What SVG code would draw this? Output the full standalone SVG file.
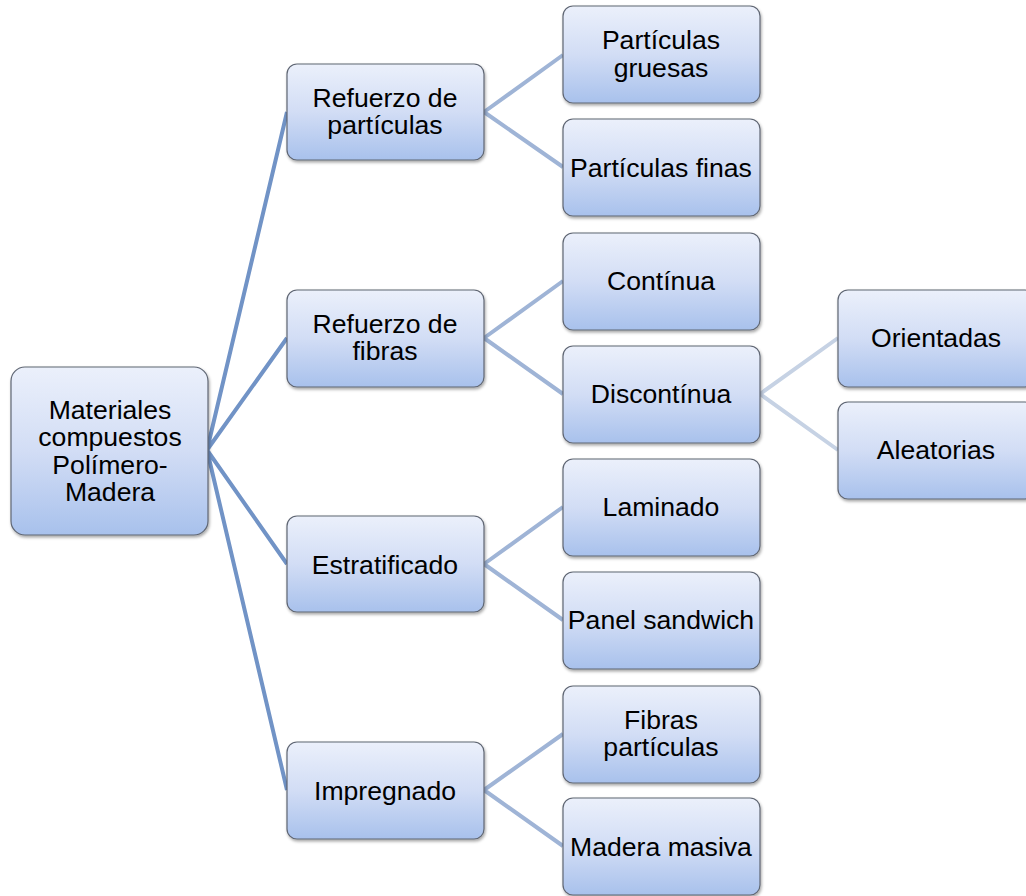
<svg xmlns="http://www.w3.org/2000/svg" width="1026" height="896" viewBox="0 0 1026 896">
<style>
.box{fill:url(#g);stroke:#5f6673;stroke-width:1.2;filter:url(#sh)}
.t{font-family:"Liberation Sans",Arial,sans-serif;font-size:26.6px;fill:#000;text-anchor:middle}
.c1{stroke:#7193c6;stroke-width:4;fill:none}
.c2{stroke:#9fb4d6;stroke-width:4;fill:none}
.c3{stroke:#c6d2e4;stroke-width:4;fill:none}
</style>
<defs>
<linearGradient id="g" x1="0" y1="0" x2="0" y2="1">
<stop offset="0" stop-color="#ebf0fb"/>
<stop offset="0.5" stop-color="#d2ddf5"/>
<stop offset="1" stop-color="#a8c1ec"/>
</linearGradient>
<filter id="sh" x="-10%" y="-10%" width="120%" height="125%">
<feDropShadow dx="1" dy="2" stdDeviation="1.5" flood-color="#000" flood-opacity="0.35"/>
</filter>
</defs>
<rect width="1026" height="896" fill="#fff"/>
<g id="connectors">
<path class="c1" d="M207 450L287 112M207 450L287 338M207 450L287 564M207 450L287 790"/>
<path class="c2" d="M484 112L563 55M484 112L563 167M484 338L563 281M484 338L563 394M484 564L563 507M484 564L563 620M484 790L563 734M484 790L563 846"/>
<path class="c3" d="M760 394L838 338M760 394L838 450"/>
</g>
<g id="root"><rect class="box" x="11" y="367" width="197" height="168" rx="14"/>
<text class="t" x="110" y="419">Materiales</text><text class="t" x="110" y="446">compuestos</text><text class="t" x="110" y="474">Polímero-</text><text class="t" x="110" y="501">Madera</text></g>
<g id="n_particulas"><rect class="box" x="287" y="64" width="197" height="96" rx="10"/>
<text class="t" x="385" y="107">Refuerzo de</text><text class="t" x="385" y="134">partículas</text></g>
<g id="n_fibras"><rect class="box" x="287" y="290" width="197" height="97" rx="10"/>
<text class="t" x="385" y="333">Refuerzo de</text><text class="t" x="385" y="360">fibras</text></g>
<g id="n_estratificado"><rect class="box" x="287" y="516" width="197" height="96" rx="10"/>
<text class="t" x="385" y="574">Estratificado</text></g>
<g id="n_impregnado"><rect class="box" x="287" y="742" width="197" height="97" rx="10"/>
<text class="t" x="385" y="800">Impregnado</text></g>
<g id="n_gruesas"><rect class="box" x="563" y="6" width="197" height="97" rx="10"/>
<text class="t" x="661" y="49">Partículas</text><text class="t" x="661" y="77">gruesas</text></g>
<g id="n_finas"><rect class="box" x="563" y="119" width="197" height="97" rx="10"/>
<text class="t" x="661" y="177">Partículas finas</text></g>
<g id="n_continua"><rect class="box" x="563" y="233" width="197" height="97" rx="10"/>
<text class="t" x="661" y="290">Contínua</text></g>
<g id="n_discontinua"><rect class="box" x="563" y="346" width="197" height="97" rx="10"/>
<text class="t" x="661" y="403">Discontínua</text></g>
<g id="n_laminado"><rect class="box" x="563" y="459" width="197" height="97" rx="10"/>
<text class="t" x="661" y="516">Laminado</text></g>
<g id="n_sandwich"><rect class="box" x="563" y="572" width="197" height="97" rx="10"/>
<text class="t" x="661" y="629">Panel sandwich</text></g>
<g id="n_fibraspart"><rect class="box" x="563" y="686" width="197" height="97" rx="10"/>
<text class="t" x="661" y="729">Fibras</text><text class="t" x="661" y="756">partículas</text></g>
<g id="n_masiva"><rect class="box" x="563" y="798" width="197" height="97" rx="10"/>
<text class="t" x="661" y="856">Madera masiva</text></g>
<g id="n_orientadas"><rect class="box" x="838" y="290" width="197" height="97" rx="10"/>
<text class="t" x="936" y="347">Orientadas</text></g>
<g id="n_aleatorias"><rect class="box" x="838" y="402" width="197" height="97" rx="10"/>
<text class="t" x="936" y="459">Aleatorias</text></g>
</svg>
